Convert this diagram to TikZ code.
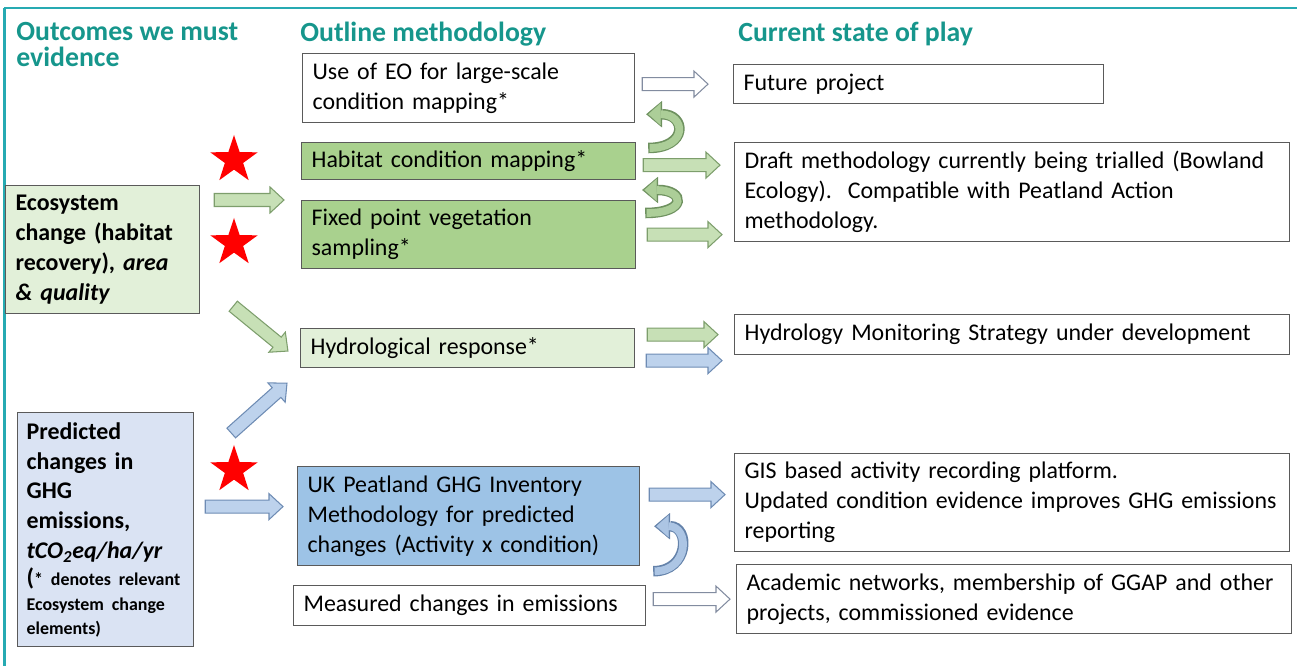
\documentclass[tikz,border=0pt]{standalone}
\usepackage{fontspec}
\setmainfont{Carlito}
\usetikzlibrary{arrows.meta,calc,shapes.geometric}

\definecolor{frameteal}{RGB}{38,170,178}
\definecolor{headteal}{RGB}{22,150,140}
\definecolor{boxline}{RGB}{90,90,90}
\definecolor{darkgreen}{RGB}{169,209,142}
\definecolor{lightgreen}{RGB}{226,240,217}
\definecolor{lightblue}{RGB}{218,227,243}
\definecolor{midblue}{RGB}{157,195,230}
\definecolor{garrowfill}{RGB}{199,224,182}
\definecolor{garrowline}{RGB}{125,158,108}
\definecolor{barrowfill}{RGB}{189,210,236}
\definecolor{barrowline}{RGB}{110,140,180}
\definecolor{warrowline}{RGB}{130,140,160}
\definecolor{gribbonline}{RGB}{110,145,95}
\definecolor{gribbonfill}{RGB}{172,206,152}
\definecolor{bribbonline}{RGB}{100,130,170}
\definecolor{bribbonfill}{RGB}{172,197,228}

\tikzset{
  box/.style={draw=boxline, line width=0.7pt, anchor=north west, align=left,
    inner xsep=0.2cm, inner ysep=0pt, font=\fontsize{13.6}{17}\selectfont},
  heading/.style={text=headteal, font=\fontsize{15.8}{15}\selectfont\bfseries,
    anchor=north west, inner sep=0pt, align=left},
  garrow/.style={draw=garrowline, fill=garrowfill, line width=0.6pt},
  barrow/.style={draw=barrowline, fill=barrowfill, line width=0.6pt},
  warrow/.style={draw=warrowline, fill=white, line width=0.6pt},
  redstar/.style={star, star points=5, star point ratio=2.6, fill=red,
    inner sep=0pt, minimum size=1.0cm},
}

% block arrow: style, start, end
\newcommand{\blockarrow}[3]{%
  \draw[#1] let \p1=(#2), \p2=(#3), \n1={atan2(\y2-\y1,\x2-\x1)},
      \n2={veclen(\x2-\x1,\y2-\y1)} in
    [shift={(\p1)}, rotate=\n1] (0cm,-0.13cm) -- ({\n2*1pt-0.28cm},-0.13cm)
    -- ({\n2*1pt-0.28cm},-0.26cm) -- ({\n2*1pt},0cm) -- ({\n2*1pt-0.28cm},0.26cm)
    -- ({\n2*1pt-0.28cm},0.13cm) -- (0cm,0.13cm) -- cycle;%
}
% curved ribbon arrow: outline, fill, path
\newcommand{\ribbon}[3]{%
  \draw[draw=#1, line width=6pt, -{Triangle[length=9pt,width=15pt,line width=0.1pt]}] #3;%
  \draw[draw=#2, line width=4.4pt, shorten <=0.8pt, shorten >=1.2pt,
    -{Triangle[length=7pt,width=12.5pt,line width=0.1pt]}] #3;%
}

\begin{document}
\begin{tikzpicture}
            \useasboundingbox (0,0) rectangle (25.94,-13.32);
            
            % Drawing frame lines
            \draw [frameteal, line width=1.2pt] (0.08,-0.16) -- (25.94,-0.16);%
            \draw [frameteal, line width=1.2pt] (0.09,-0.16) -- (0.09,-13.32);%
            
            % Column headings
            \node [heading] (hdout) at (0.32,-0.44) {Outcomes we must\\evidence};%
            \node [heading] (hdmeth) at (6.00,-0.44) {Outline methodology};%
            \node [heading] (hdstate) at (14.76,-0.44) {Current state of play};%
            
            % Outcome boxes
            \node [box, fill=lightgreen, minimum width=3.88cm, minimum height=2.56cm, text width=3.48cm]
              (eco) at (0.10,-3.70) {\bfseries Ecosystem\\change (habitat\\recovery), \textit{area}\\\textit{\& quality}};%
            \node [box, fill=lightblue, inner xsep=0.18cm, minimum width=3.52cm, minimum height=4.68cm, text width=3.16cm]
              (pred) at (0.34,-8.24) {\bfseries\hyphenpenalty=10000 Predicted\\changes in\\GHG\\emissions,\\\textit{tCO\textsubscript{2}eq/ha/yr}\\[-1.5pt]%
              (\fontsize{10.2}{17}\selectfont* denotes relevant\\[-3.3pt]Ecosystem change\\[-3.3pt]elements)};%
            
            % Methodology boxes
            \node [box, fill=white, minimum width=6.64cm, minimum height=1.38cm, text width=6.24cm]
              (eo) at (6.04,-1.06) {Use of EO for large-scale\\condition mapping*};%
            \node [box, fill=darkgreen, minimum width=6.68cm, minimum height=0.74cm, text width=6.28cm]
              (hab) at (6.02,-2.84) {Habitat condition mapping*};%
            \node [box, fill=darkgreen, minimum width=6.68cm, minimum height=1.36cm, text width=6.28cm]
              (fixed) at (6.02,-4.00) {Fixed point vegetation\\sampling*};%
            \node [box, fill=lightgreen, minimum width=6.68cm, minimum height=0.78cm, text width=6.28cm]
              (hydro) at (6.00,-6.56) {Hydrological response*};%
            \node [box, fill=midblue, minimum width=6.84cm, minimum height=1.98cm, text width=6.44cm]
              (uk) at (5.94,-9.32) {UK Peatland GHG Inventory\\Methodology for predicted\\changes (Activity x condition)};%
            \node [box, fill=white, minimum width=7.04cm, minimum height=0.80cm, text width=6.64cm]
              (meas) at (5.86,-11.70) {Measured changes in emissions};%
            
            % State of play boxes
            \node [box, fill=white, minimum width=7.40cm, minimum height=0.78cm, text width=7.00cm]
              (future) at (14.66,-1.28) {Future project};%
            \node [box, fill=white, minimum width=11.06cm, minimum height=1.98cm, text width=10.70cm]
              (draft) at (14.68,-2.84) {Draft methodology currently being trialled (Bowland\\Ecology).\ \ Compatible with Peatland Action\\methodology.};%
            \node [box, fill=white, minimum width=11.06cm, minimum height=0.80cm, text width=10.70cm]
              (hydmon) at (14.68,-6.28) {Hydrology Monitoring Strategy under development};%
            \node [box, fill=white, minimum width=11.06cm, minimum height=1.96cm, text width=10.70cm]
              (gis) at (14.68,-9.06) {GIS based activity recording platform.\\Updated condition evidence improves GHG emissions\\reporting};%
            \node [box, fill=white, minimum width=11.08cm, minimum height=1.38cm, text width=10.70cm]
              (acad) at (14.72,-11.28) {Academic networks, membership of GGAP and other\\projects, commissioned evidence};%
            
            % Stars
            \node [redstar] (star1) at (4.68,-3.20) {};%
            \node [redstar] (star2) at (4.68,-4.86) {};%
            \node [redstar] (star3) at (4.68,-9.40) {};%
            
            % Arrows from outcomes to methods
            \blockarrow{garrow}{[xshift=0.28cm]eco.east |- fixed.north west}{[xshift=-0.34cm]fixed.north west}%
            \blockarrow{garrow}{[shift={(0.66cm,0.16cm)}]eco.south east}{[shift={(-0.24cm,-0.06cm)}]hydro.west}%
            \blockarrow{barrow}{[shift={(0.74cm,-0.42cm)}]pred.north east}{[shift={(-0.26cm,-0.30cm)}]hydro.south west}%
            \blockarrow{barrow}{[shift={(0.22cm,0.19cm)}]pred.east |- uk.west}{[shift={(-0.28cm,0.19cm)}]uk.west}%
            
            % Arrows from methods to state of play
            \blockarrow{warrow}{[xshift=0.14cm]eo.east |- future.west}{[xshift=-0.50cm]future.west}%
            \blockarrow{garrow}{[shift={(0.14cm,-0.08cm)}]hab.east}{[shift={(-0.28cm,-0.08cm)}]hab.east -| draft.west}%
            \blockarrow{garrow}{[xshift=0.22cm]fixed.east}{[xshift=-0.24cm]fixed.east -| draft.west}%
            \blockarrow{garrow}{[xshift=0.24cm]hydro.east |- hydmon.west}{[xshift=-0.32cm]hydmon.west}%
            \blockarrow{barrow}{[shift={(0.22cm,-0.52cm)}]hydro.east |- hydmon.west}{[shift={(-0.24cm,-0.52cm)}]hydmon.west}%
            \blockarrow{barrow}{[shift={(0.18cm,0.16cm)}]uk.east |- gis.west}{[shift={(-0.18cm,0.16cm)}]gis.west}%
            \blockarrow{warrow}{[xshift=0.14cm]meas.east |- acad.west}{[xshift=-0.12cm]acad.west}%
            
            % Curved feedback arrows
            \ribbon{gribbonline}{gribbonfill}{([shift={(0.24cm,-0.12cm)}]hab.north east) .. controls +(0.8,0) and +(0.8,0) .. ([shift={(0.22cm,0.18cm)}]eo.south east)}%
            \ribbon{gribbonline}{gribbonfill}{([shift={(0.18cm,-0.26cm)}]fixed.north east) .. controls +(0.85,0) and +(0.85,0) .. ([shift={(0.12cm,0.20cm)}]fixed.north east)}%
            \ribbon{bribbonline}{bribbonfill}{([shift={(0.26cm,-0.10cm)}]uk.south east) .. controls +(0.72,0) and +(0.72,0) .. ([shift={(0.28cm,0.80cm)}]uk.south east)}%
\end{tikzpicture}
\end{document}
